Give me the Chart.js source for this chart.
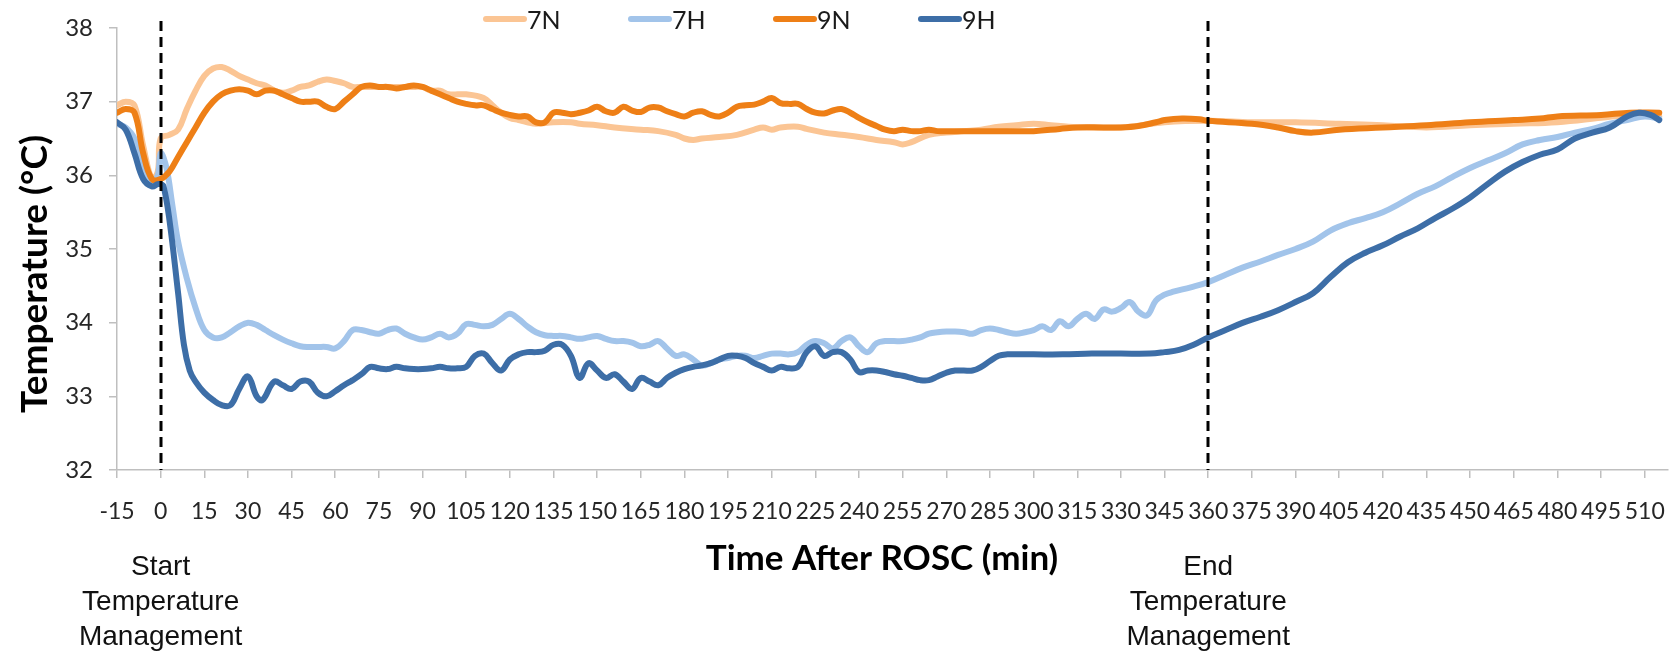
<!DOCTYPE html>
<html>
<head>
<meta charset="utf-8">
<script src="https://cdn.jsdelivr.net/npm/chart.js@4.4.0/dist/chart.umd.min.js"></script>
<style>
html,body{margin:0;padding:0;background:#ffffff;}
#wrap{width:1675px;height:654px;position:relative;}
</style>
</head>
<body>
<div id="wrap"><canvas id="c" width="1675" height="654"></canvas></div>
<script>
// ---------------- data ----------------
const seriesNames = ['7N', '7H', '9N', '9H'];
const xTickValues = [-15,0,15,30,45,60,75,90,105,120,135,150,165,180,195,210,225,240,255,270,285,300,315,330,345,360,375,390,405,420,435,450,465,480,495,510];
const yTickValues = [32,33,34,35,36,37,38];
const markerTimes = [0, 360];
const markerLabels = [['Start','Temperature','Management'], ['End','Temperature','Management']];

const t7N = [-15,-12,-9,-6,-3,-1,0,3,6,9,12,15,18,21,24,27,30,33,36,39,42,45,48,51,54,57,60,63,66,69,72,75,81,87,90,93,96,99,105,111,114,117,120,123,126,129,135,141,144,150,156,165,171,177,180,183,186,192,198,204,207,210,213,219,222,228,234,240,246,252,255,258,264,270,276,282,288,294,300,306,312,318,330,345,360,375,390,405,420,435,450,465,480,495,505,515];
const v7N = [36.95,37.0,36.95,36.4,35.95,36.05,36.5,36.55,36.62,36.9,37.15,37.35,37.45,37.47,37.42,37.35,37.3,37.25,37.22,37.15,37.12,37.15,37.2,37.22,37.27,37.3,37.28,37.25,37.2,37.2,37.2,37.2,37.2,37.2,37.2,37.15,37.15,37.1,37.1,37.05,36.95,36.85,36.78,36.75,36.72,36.7,36.72,36.72,36.7,36.68,36.65,36.62,36.6,36.55,36.5,36.48,36.5,36.52,36.55,36.62,36.65,36.62,36.65,36.66,36.63,36.58,36.55,36.52,36.48,36.45,36.42,36.45,36.55,36.58,36.6,36.62,36.66,36.68,36.7,36.68,36.66,36.65,36.65,36.72,36.74,36.72,36.72,36.7,36.68,36.65,36.68,36.7,36.72,36.78,36.82,36.8];

const t7H = [-15,-12,-9,-6,-3,-1,0,2,4,6,9,12,15,18,21,24,27,30,33,36,39,42,45,48,51,54,57,60,63,66,69,72,75,78,81,84,87,90,93,96,99,102,105,108,111,114,117,120,123,126,129,132,135,138,141,144,147,150,153,156,159,162,165,168,171,174,177,180,183,186,189,192,195,198,201,204,207,210,213,216,219,222,225,228,231,234,237,240,243,246,249,252,255,258,261,264,267,270,273,276,279,282,285,288,291,294,297,300,303,306,309,312,315,318,321,324,327,330,333,336,339,342,345,348,354,360,366,372,378,384,390,396,402,408,414,420,426,432,438,444,450,456,462,468,474,480,486,492,498,504,510,515];
const v7H = [36.7,36.65,36.5,36.1,35.9,36.0,36.3,36.1,35.6,35.1,34.6,34.2,33.9,33.8,33.8,33.87,33.95,34.0,33.97,33.9,33.83,33.77,33.72,33.68,33.67,33.67,33.67,33.65,33.75,33.9,33.9,33.87,33.85,33.9,33.92,33.85,33.8,33.77,33.8,33.85,33.8,33.85,33.98,33.97,33.95,33.97,34.05,34.12,34.05,33.95,33.87,33.83,33.82,33.82,33.8,33.78,33.8,33.82,33.78,33.75,33.75,33.73,33.68,33.7,33.75,33.65,33.55,33.57,33.5,33.42,33.45,33.5,33.52,33.55,33.55,33.52,33.55,33.58,33.58,33.57,33.6,33.7,33.75,33.72,33.65,33.75,33.8,33.68,33.6,33.72,33.75,33.75,33.75,33.77,33.8,33.85,33.87,33.88,33.88,33.87,33.85,33.9,33.92,33.9,33.87,33.85,33.87,33.9,33.95,33.9,34.02,33.95,34.05,34.12,34.05,34.18,34.15,34.2,34.28,34.15,34.1,34.3,34.38,34.42,34.48,34.55,34.65,34.75,34.83,34.92,35.0,35.1,35.25,35.35,35.42,35.5,35.62,35.75,35.85,35.98,36.1,36.2,36.3,36.42,36.48,36.52,36.58,36.63,36.7,36.75,36.8,36.77];

const t9N = [-15,-12,-9,-6,-3,0,3,6,9,12,15,18,21,24,27,30,33,36,39,42,45,48,51,54,57,60,63,66,69,72,75,78,81,84,87,90,93,96,99,102,105,108,111,114,117,120,123,126,129,132,135,138,141,144,147,150,153,156,159,162,165,168,171,174,177,180,183,186,189,192,195,198,201,204,207,210,213,216,219,222,225,228,231,234,237,240,243,246,249,252,255,258,261,264,267,270,280,290,300,309,315,324,330,336,342,345,351,357,360,375,384,390,396,405,420,435,450,465,474,480,495,505,515];
const v9N = [36.85,36.9,36.85,36.3,35.95,35.95,36.05,36.25,36.45,36.65,36.85,37.0,37.1,37.15,37.17,37.15,37.1,37.15,37.15,37.1,37.05,37.0,37.0,37.0,36.93,36.9,37.0,37.1,37.2,37.22,37.2,37.2,37.18,37.2,37.22,37.2,37.15,37.1,37.05,37.0,36.97,36.95,36.95,36.9,36.85,36.82,36.8,36.8,36.72,36.72,36.85,36.85,36.83,36.85,36.88,36.93,36.87,36.85,36.93,36.88,36.86,36.92,36.92,36.87,36.83,36.8,36.85,36.87,36.82,36.8,36.85,36.93,36.95,36.96,37.0,37.05,36.98,36.97,36.97,36.9,36.85,36.84,36.88,36.9,36.85,36.78,36.72,36.67,36.62,36.6,36.62,36.6,36.6,36.62,36.6,36.6,36.6,36.6,36.6,36.63,36.65,36.65,36.65,36.67,36.72,36.75,36.77,36.76,36.74,36.7,36.65,36.6,36.58,36.62,36.65,36.68,36.72,36.75,36.77,36.8,36.82,36.85,36.85];

const t9H = [-15,-12,-9,-6,-3,-1,0,1,3,6,8,10,12,15,18,21,24,27,30,33,35,39,42,45,48,51,54,57,60,63,66,69,72,75,78,81,84,87,90,93,96,99,102,105,108,111,114,117,120,123,126,129,132,135,138,141,144,147,150,153,156,159,162,165,168,171,174,177,180,183,186,189,192,195,198,201,204,207,210,213,216,219,222,225,228,231,234,237,240,243,246,249,252,255,258,261,264,267,270,273,276,279,282,285,288,291,294,300,310,320,330,340,345,350,355,360,366,372,378,384,390,396,402,408,414,420,426,432,438,444,450,456,462,468,474,480,486,492,498,504,508,512,515];
const v9H = [36.72,36.62,36.3,35.95,35.85,35.88,35.88,35.85,35.4,34.4,33.7,33.35,33.2,33.05,32.95,32.88,32.88,33.1,33.27,33.0,32.95,33.2,33.15,33.1,33.2,33.2,33.05,33.0,33.07,33.15,33.22,33.3,33.4,33.38,33.37,33.4,33.38,33.37,33.37,33.38,33.4,33.38,33.38,33.4,33.55,33.58,33.45,33.35,33.5,33.57,33.6,33.6,33.62,33.7,33.7,33.55,33.25,33.45,33.35,33.25,33.3,33.2,33.1,33.25,33.2,33.15,33.25,33.32,33.37,33.4,33.42,33.45,33.5,33.55,33.55,33.52,33.45,33.4,33.35,33.4,33.38,33.4,33.6,33.68,33.55,33.6,33.6,33.5,33.33,33.35,33.35,33.33,33.3,33.28,33.25,33.22,33.22,33.27,33.32,33.35,33.35,33.35,33.4,33.48,33.55,33.57,33.57,33.57,33.57,33.58,33.58,33.58,33.6,33.63,33.7,33.8,33.9,34.0,34.08,34.17,34.28,34.4,34.62,34.82,34.95,35.05,35.17,35.28,35.42,35.55,35.7,35.88,36.05,36.18,36.28,36.35,36.5,36.58,36.65,36.8,36.85,36.82,36.75];

const seriesTimes = [t7N, t7H, t9N, t9H];
const seriesValues = [v7N, v7H, v9N, v9H];

// ---------------- styling ----------------
const seriesColors = ['#FBC594', '#A2C4EA', '#EE7F16', '#3D6EA7'];
const drawOrder = [4, 3, 2, 1];
const xTickFont = {family: 'Lato, "Open Sans", sans-serif', size: 23};
const yTickFont = {family: 'Lato, "Open Sans", sans-serif', size: 24};
const tickColor = '#262626';
const axisGrey = '#BFBFBF';

const datasets = seriesNames.map((name, i) => ({
  label: name,
  data: seriesTimes[i].map((t, k) => ({x: t, y: seriesValues[i][k]})),
  borderColor: seriesColors[i],
  backgroundColor: seriesColors[i],
  borderWidth: 6,
  pointRadius: 0,
  tension: 0.4,
  fill: false,
  order: drawOrder[i],
  borderCapStyle: 'round',
  borderJoinStyle: 'round'
}));

const overlayPlugin = {
  id: 'overlay',
  afterDatasetsDraw(chart) {
    const ctx = chart.ctx;
    const xs = chart.scales.x;
    const area = chart.chartArea;
    ctx.save();
    ctx.strokeStyle = '#000000';
    ctx.lineWidth = 3;
    ctx.setLineDash([10, 6]);
    markerTimes.forEach(t => {
      const px = Math.round(xs.getPixelForValue(t));
      ctx.beginPath();
      ctx.moveTo(px, 21);
      ctx.lineTo(px, area.bottom);
      ctx.stroke();
    });
    ctx.restore();
  },
  afterDraw(chart) {
    const ctx = chart.ctx;
    const xs = chart.scales.x;
    ctx.save();
    // marker annotations
    ctx.fillStyle = '#111111';
    ctx.font = '28px "Liberation Sans Narrow", "Arial Narrow", sans-serif';
    ctx.textAlign = 'center';
    ctx.textBaseline = 'middle';
    markerTimes.forEach((t, i) => {
      const px = xs.getPixelForValue(t);
      markerLabels[i].forEach((line, j) => {
        ctx.fillText(line, px, 567 + j * 35);
      });
    });
    // axis titles
    ctx.fillStyle = '#000000';
    ctx.font = 'bold 35px Lato, "Open Sans", sans-serif';
    ctx.fillText('Time After ROSC (min)', 882, 559);
    ctx.save();
    ctx.translate(35, 274);
    ctx.rotate(-Math.PI / 2);
    ctx.font = 'bold 37px Lato, "Open Sans", sans-serif';
    ctx.fillText('Temperature (\u00B0C)', 0, 0);
    ctx.restore();
    // legend
    const lx0 = 483, lstep = 145, ly = 19;
    ctx.font = '25px Lato, "Open Sans", sans-serif';
    ctx.textAlign = 'left';
    chart.data.datasets.forEach((ds, i) => {
      const x = lx0 + i * lstep;
      ctx.strokeStyle = ds.borderColor;
      ctx.lineWidth = 6;
      ctx.lineCap = 'round';
      ctx.beginPath();
      ctx.moveTo(x + 3, ly);
      ctx.lineTo(x + 41, ly);
      ctx.stroke();
      ctx.fillStyle = '#1a1a1a';
      ctx.fillText(ds.label, x + 44, ly + 2);
    });
    ctx.restore();
  }
};

new Chart(document.getElementById('c'), {
  type: 'line',
  data: {datasets},
  options: {
    responsive: false,
    animation: false,
    events: [],
    layout: {padding: {left: 0, top: 28, right: 7, bottom: 0}},
    plugins: {legend: {display: false}, tooltip: {enabled: false}},
    scales: {
      x: {
        type: 'linear',
        min: -15,
        max: 518,
        afterBuildTicks: s => { s.ticks = xTickValues.map(v => ({value: v})); },
        afterFit: s => { s.height = 184; s.paddingLeft = 0; s.paddingRight = 0; },
        ticks: {autoSkip: false, maxRotation: 0, minRotation: 0, font: xTickFont, color: tickColor, padding: 20},
        grid: {drawOnChartArea: false, drawTicks: true, tickLength: 8, color: axisGrey, lineWidth: 1.5},
        border: {display: true, color: axisGrey, width: 1.5}
      },
      y: {
        min: 32,
        max: 38,
        afterBuildTicks: s => { s.ticks = yTickValues.map(v => ({value: v})); },
        afterFit: s => { s.width = 117; s.paddingTop = 0; s.paddingBottom = 0; },
        ticks: {font: yTickFont, color: tickColor, padding: 16},
        grid: {drawOnChartArea: false, drawTicks: true, tickLength: 8, color: axisGrey, lineWidth: 1.5},
        border: {display: true, color: axisGrey, width: 1.5}
      }
    }
  },
  plugins: [overlayPlugin]
});
</script>
</body>
</html>
